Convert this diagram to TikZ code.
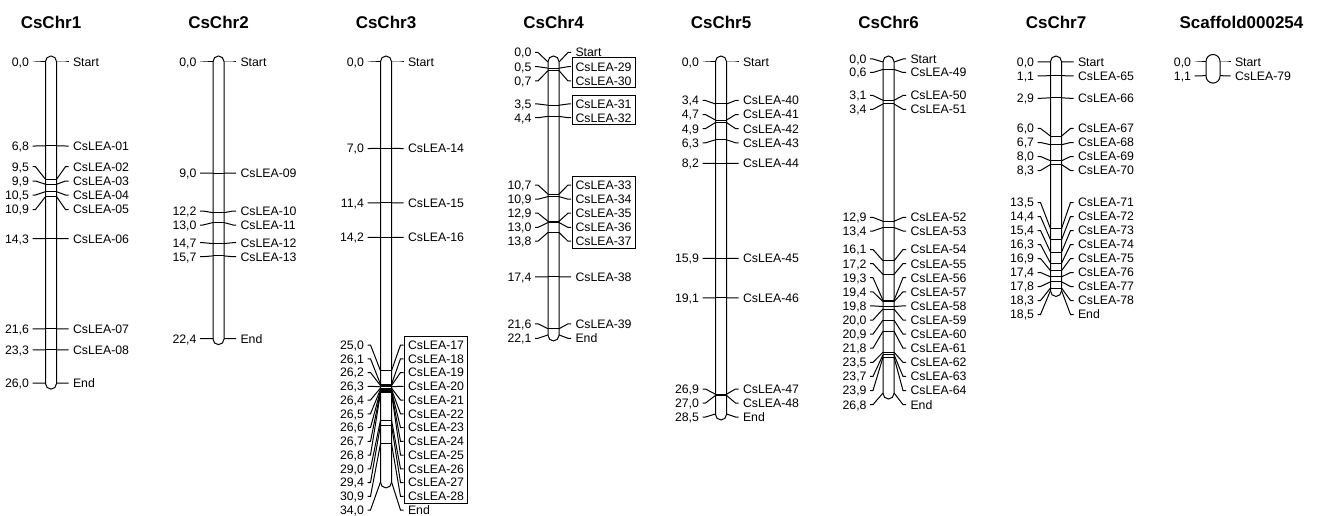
\documentclass[tikz,border=0pt]{standalone}
\usepackage{fontspec}
\setmainfont{Liberation Sans}
\usetikzlibrary{fit}

\pgfkeys{/pgf/number format/.cd, fixed, fixed zerofill, precision=1, use comma, assume math mode=true}

\newcommand{\barhw}{5.5}

% marker without a line across the bar (Start / End)
\newcommand{\tipmark}[5]{%
  \pgfmathsetmacro\ty{62+12.35*#3}
  \coordinate (#1-#5-l) at ({#2-\barhw},\ty);
  \coordinate (#1-#5-r) at ({#2+\barhw},\ty);
  \node[cmlab] (#1-#5-cm) at ({#2-21.5},#4) {\pgfmathprintnumber{#3}};
  \node[genelab] (#1-#5) at ({#2+21.5},#4) {#5};
  \draw ([xshift=3pt]#1-#5-cm.east) -- ++(3,0) -- (#1-#5-l);
  \draw (#1-#5-r) -- ([xshift=-7pt]#1-#5.west) -- ++(3,0);
}
% gene marker
\newcommand{\lmark}[5]{%
  \tipmark{#1}{#2}{#3}{#4}{#5}
  \draw (#1-#5-l) -- (#1-#5-r);
}
% chromosome bar and title
\newcommand{\chrom}[4]{%
  \node[chrtitle] (#1) at (#2,28.3) {#4};
  \pgfmathsetmacro\by{62+12.35*#3+\barhw+0.5}
  \draw[rounded corners=\barhw pt] ({#2-\barhw},{62-\barhw-0.5}) rectangle ({#2+\barhw},\by);
}

\begin{document}
\begin{tikzpicture}[
    x=1pt, y=-1pt, line width=1pt,
    chrtitle/.style={anchor=base, font=\fontsize{17}{20}\selectfont\bfseries},
    cmlab/.style={anchor=east, inner sep=0pt, text height=8.8pt, text depth=0pt, font=\fontsize{12.3}{14}\selectfont},
    genelab/.style={cmlab, anchor=west},
    labbox/.style={draw, inner xsep=3pt, inner ysep=3pt, yshift=1pt},
]
\useasboundingbox (0,0) rectangle (1319,516);

% CsChr1
\chrom{chr1}{51}{26.0}{CsChr1}
\tipmark{chr1}{51}{0}{62}{Start}
\foreach \p/\ly/\g in {6.8/146/CsLEA-01, 9.5/166.7/CsLEA-02, 9.9/181/CsLEA-03, 10.5/195/CsLEA-04,
    10.9/209.5/CsLEA-05, 14.3/238.6/CsLEA-06, 21.6/328.8/CsLEA-07, 23.3/349.8/CsLEA-08}
  {\lmark{chr1}{51}{\p}{\ly}{\g}}
\tipmark{chr1}{51}{26.0}{383.1}{End}

% CsChr2
\chrom{chr2}{218.5}{22.4}{CsChr2}
\tipmark{chr2}{218.5}{0}{62}{Start}
\foreach \p/\ly/\g in {9.0/173.2/CsLEA-09, 12.2/211/CsLEA-10, 13.0/225/CsLEA-11,
    14.7/242.7/CsLEA-12, 15.7/256.7/CsLEA-13}
  {\lmark{chr2}{218.5}{\p}{\ly}{\g}}
\tipmark{chr2}{218.5}{22.4}{338.6}{End}

% CsChr3
\chrom{chr3}{386}{34.0}{CsChr3}
\tipmark{chr3}{386}{0}{62}{Start}
\foreach \p/\ly/\g in {7.0/148.5/CsLEA-14, 11.4/202.8/CsLEA-15, 14.2/237.4/CsLEA-16,
    25.0/345/CsLEA-17, 26.1/358.75/CsLEA-18, 26.2/372.5/CsLEA-19, 26.3/386.25/CsLEA-20,
    26.4/400/CsLEA-21, 26.5/413.75/CsLEA-22, 26.6/427.5/CsLEA-23, 26.7/441.25/CsLEA-24,
    26.8/455/CsLEA-25, 29.0/468.75/CsLEA-26, 29.4/482.5/CsLEA-27, 30.9/496.25/CsLEA-28}
  {\lmark{chr3}{386}{\p}{\ly}{\g}}
\tipmark{chr3}{386}{34.0}{510}{End}
\node[labbox, fit=(chr3-CsLEA-17)(chr3-CsLEA-28)] (box3) {};

% CsChr4
\chrom{chr4}{553.5}{22.1}{CsChr4}
\tipmark{chr4}{553.5}{0}{52.5}{Start}
\foreach \p/\ly/\g in {0.5/66.7/CsLEA-29, 0.7/80.9/CsLEA-30, 3.5/104/CsLEA-31, 4.4/117.7/CsLEA-32,
    10.7/185/CsLEA-33, 10.9/199.2/CsLEA-34, 12.9/213.2/CsLEA-35, 13.0/227.4/CsLEA-36,
    13.8/241.2/CsLEA-37, 17.4/276.9/CsLEA-38, 21.6/323.8/CsLEA-39}
  {\lmark{chr4}{553.5}{\p}{\ly}{\g}}
\tipmark{chr4}{553.5}{22.1}{338.3}{End}
\node[labbox, fit=(chr4-CsLEA-29)(chr4-CsLEA-30)] (box4a) {};
\node[labbox, fit=(chr4-CsLEA-31)(chr4-CsLEA-32)] (box4b) {};
\node[labbox, fit=(chr4-CsLEA-33)(chr4-CsLEA-37)] (box4c) {};

% CsChr5
\chrom{chr5}{721}{28.5}{CsChr5}
\tipmark{chr5}{721}{0}{62}{Start}
\foreach \p/\ly/\g in {3.4/100.5/CsLEA-40, 4.7/114.6/CsLEA-41, 4.9/128.6/CsLEA-42, 6.3/142.8/CsLEA-43,
    8.2/163.3/CsLEA-44, 15.9/258.4/CsLEA-45, 19.1/297.9/CsLEA-46, 26.9/389/CsLEA-47, 27.0/403/CsLEA-48}
  {\lmark{chr5}{721}{\p}{\ly}{\g}}
\tipmark{chr5}{721}{28.5}{417}{End}

% CsChr6
\chrom{chr6}{888.5}{26.8}{CsChr6}
\tipmark{chr6}{888.5}{0}{59}{Start}
\foreach \p/\ly/\g in {0.6/72.5/CsLEA-49, 3.1/95.5/CsLEA-50, 3.4/109.3/CsLEA-51,
    12.9/217.4/CsLEA-52, 13.4/231/CsLEA-53, 16.1/249.5/CsLEA-54, 17.2/263.6/CsLEA-55,
    19.3/277.7/CsLEA-56, 19.4/291.8/CsLEA-57, 19.8/305.9/CsLEA-58, 20.0/320/CsLEA-59,
    20.9/334.1/CsLEA-60, 21.8/348.2/CsLEA-61, 23.5/362.3/CsLEA-62, 23.7/376.4/CsLEA-63,
    23.9/390.5/CsLEA-64}
  {\lmark{chr6}{888.5}{\p}{\ly}{\g}}
\tipmark{chr6}{888.5}{26.8}{404.6}{End}

% CsChr7
\chrom{chr7}{1056}{18.5}{CsChr7}
\tipmark{chr7}{1056}{0}{61.8}{Start}
\foreach \p/\ly/\g in {1.1/76/CsLEA-65, 2.9/98.3/CsLEA-66, 6.0/128.5/CsLEA-67, 6.7/142.5/CsLEA-68,
    8.0/156.5/CsLEA-69, 8.3/170.5/CsLEA-70, 13.5/202.5/CsLEA-71, 14.4/216.5/CsLEA-72,
    15.4/230.5/CsLEA-73, 16.3/244.5/CsLEA-74, 16.9/258.5/CsLEA-75, 17.4/272.5/CsLEA-76,
    17.8/286.5/CsLEA-77, 18.3/300.5/CsLEA-78}
  {\lmark{chr7}{1056}{\p}{\ly}{\g}}
\tipmark{chr7}{1056}{18.5}{314.5}{End}

% Scaffold000254
\renewcommand{\barhw}{7}
\node[chrtitle] (scf) at (1241.5,28.3) {Scaffold000254};
\draw[rounded corners=7pt] (1206,54.5) rectangle (1220,83.1);
\tipmark{scf}{1213}{0}{62}{Start}
\tipmark{scf}{1213}{1.1}{76}{CsLEA-79}
\end{tikzpicture}
\end{document}
